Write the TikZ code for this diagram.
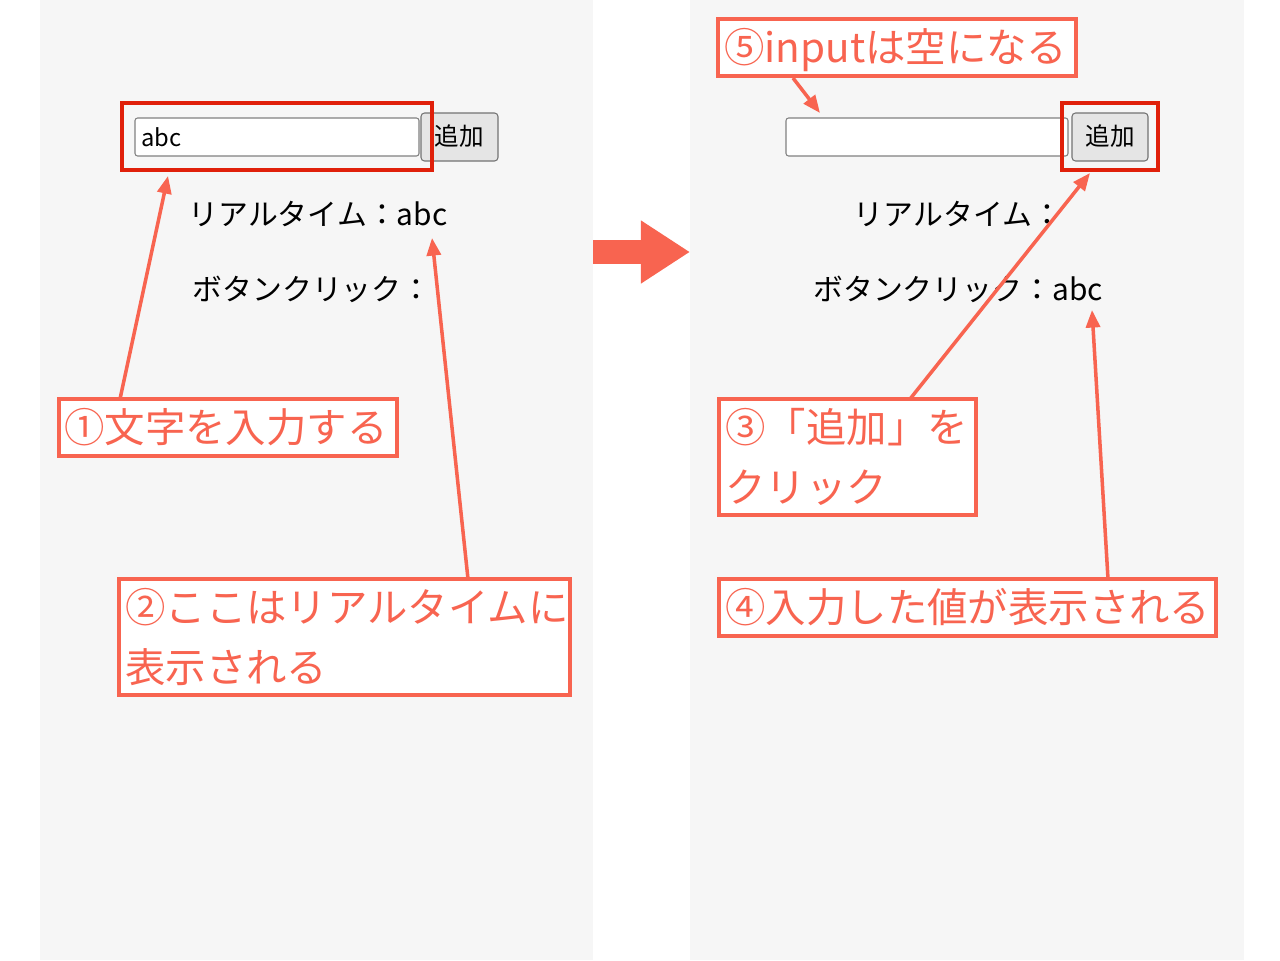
\documentclass[tikz,border=0pt]{standalone}
\usepackage{fontspec}
\setmainfont{Noto Sans CJK JP}
\usetikzlibrary{arrows.meta}
\definecolor{sal}{HTML}{F86450}
\definecolor{dred}{HTML}{E0200A}
\definecolor{pan}{HTML}{F6F6F6}
\tikzset{
 ann/.style={draw=sal,line width=2.2pt,fill=white,inner sep=0pt},
 anntext/.style={text=sal,font=\fontsize{23}{34}\selectfont,anchor=north west,align=left,inner sep=0pt},
 body/.style={font=\fontsize{17}{19}\selectfont,inner sep=0pt},
 inp/.style={draw=gray,fill=white,rounded corners=1.5pt,line width=0.6pt},
 btn/.style={draw=gray!90!black,fill=gray!20,rounded corners=2pt,line width=0.6pt},
 hl/.style={draw=dred,line width=2.5pt},
 pt/.style={draw=sal,line width=2pt,-{Triangle[length=10pt,width=8pt]}}
}
\begin{document}
\begin{tikzpicture}[x=0.02cm,y=-0.02cm]
\useasboundingbox (0,0) rectangle (1280,960);
\fill[white] (0,0) rectangle (1280,960);
\fill[pan] (40,0) rectangle (593,960);
\fill[pan] (690,0) rectangle (1244,960);
% left panel
\draw[inp] (135,118) rectangle (419,156);
\node[body,anchor=west,font=\fontsize{13.5}{15}\selectfont] (inl) at (141,137) {abc};
\draw[btn] (421,113) rectangle (498,161);
\node[body,font=\fontsize{14}{15}\selectfont] (bl) at (459,136) {追加};
\draw[hl] (122,103) rectangle (432,170);
\node[body] (rl) at (318,214) {リアルタイム：abc};
\node[body] (cl) at (312,289) {ボタンクリック：};
\draw[ann] (59,399) rectangle (397,456);
\node[anntext] (a1) at (64,408) {①文字を入力する};
\draw[ann] (119,579) rectangle (570,695);
\node[anntext] (a2) at (125,588) {②ここはリアルタイムに\\表示される};
\coordinate (s1) at (120,399); \coordinate (e1) at (168,176);
\draw[pt] (s1) -- (e1);
\coordinate (s2) at (468,579); \coordinate (e2) at (432,238);
\draw[pt] (s2) -- (e2);
% big arrow
\coordinate (bs) at (593,252); \coordinate (be) at (690,252);
\draw[sal,line width=14pt,-{Triangle[length=28pt,width=34pt]}] (bs) -- (be);
% right panel
\draw[ann] (718,19) rectangle (1076,76);
\node[anntext] (a5) at (724,28) {⑤inputは空になる};
\draw[inp] (786,118) rectangle (1068,156);
\draw[btn] (1072,113) rectangle (1148,161);
\node[body,font=\fontsize{14}{15}\selectfont] (br) at (1110,136) {追加};
\draw[hl] (1062,103) rectangle (1158,170);
\node[body] (rr) at (958,214) {リアルタイム：};
\node[body] (cr) at (958,289) {ボタンクリック：abc};
\coordinate (s5) at (793,78); \coordinate (e5) at (820,113);
\draw[pt] (s5) -- (e5);
\coordinate (s3) at (910,399); \coordinate (e3) at (1090,173);
\draw[pt] (s3) -- (e3);
\coordinate (s4) at (1108,579); \coordinate (e4) at (1092,310);
\draw[pt] (s4) -- (e4);
\draw[ann] (719,399) rectangle (976,515);
\node[anntext] (a3) at (725,408) {③「追加」を\\クリック};
\draw[ann] (719,579) rectangle (1216,636);
\node[anntext] (a4) at (725,588) {④入力した値が表示される};
\end{tikzpicture}
\end{document}
